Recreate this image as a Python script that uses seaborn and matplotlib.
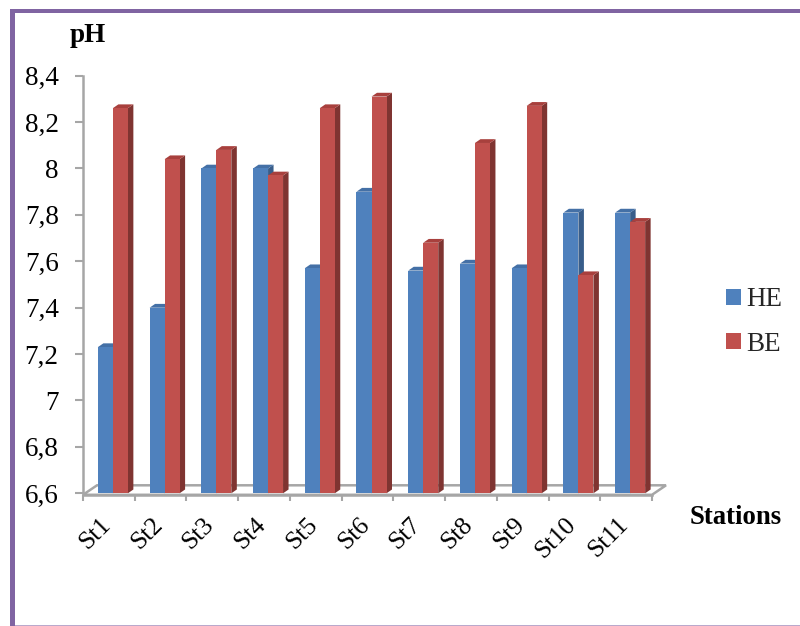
import matplotlib
matplotlib.use("Agg")
import matplotlib.pyplot as plt
import pandas as pd
import seaborn as sns
from matplotlib.patches import Polygon, Rectangle

stations = ["St1", "St2", "St3", "St4", "St5", "St6", "St7", "St8", "St9", "St10", "St11"]
he_values = [7.23, 7.40, 8.00, 8.00, 7.57, 7.90, 7.56, 7.59, 7.57, 7.81, 7.81]
be_values = [8.26, 8.04, 8.08, 7.97, 8.26, 8.31, 7.68, 8.11, 8.27, 7.54, 7.77]
y_ticks = [6.6, 6.8, 7.0, 7.2, 7.4, 7.6, 7.8, 8.0, 8.2, 8.4]
y_tick_labels = ["6,6", "6,8", "7", "7,2", "7,4", "7,6", "7,8", "8", "8,2", "8,4"]

W, H = 800, 626
FRONT = {"HE": "#4F81BD", "BE": "#C0504D"}
SIDE = {"HE": "#385D8A", "BE": "#7F3431"}
TOP = {"HE": "#4470A6", "BE": "#A8403D"}
GREY = "#A6A6A6"
FRAME = "#8064A2"

sns.set_theme(style="white")
plt.rcParams["font.family"] = ["Liberation Serif", "DejaVu Serif"]

df = pd.DataFrame({
    "station": stations * 2,
    "series": ["HE"] * len(stations) + ["BE"] * len(stations),
    "ph": he_values + be_values,
})

fig = plt.figure(figsize=(W / 100, H / 100), dpi=100, facecolor="white")
left, right, top, bottom = 83, 652, 75.7, 493.3
ax = fig.add_axes([left / W, 1 - bottom / H, (right - left) / W, (bottom - top) / H])
ax.patch.set_alpha(0)

sns.barplot(data=df, x="station", y="ph", hue="series", hue_order=["HE", "BE"],
            palette=FRONT, order=stations, width=0.58, dodge=True, saturation=1,
            errorbar=None, ax=ax, linewidth=0, native_scale=False)

# Category centres sit a little right of the tick cells because of the 3D depth.
px_per_cat = (right - left) / 11
shift = 4 / px_per_cat
ax.set_xlim(-0.5 - shift, 10.5 - shift)
ax.set_ylim(6.6, 8.4)

# Depth faces for each box, sized in pixels and converted to data units.
px_per_y = (bottom - top) / 1.8
dx = 5.5 / px_per_cat
dy = 3.8 / px_per_y
y0 = 6.6
for idx, (name, container) in enumerate(zip(["HE", "BE"], ax.containers)):
    base_z = 3 + idx * 2
    for bar in container:
        x0 = bar.get_x()
        x1 = x0 + bar.get_width()
        h = bar.get_height()
        bar.set_zorder(base_z + 1)
        ax.add_patch(Polygon([(x1, y0), (x1 + dx, y0 + dy), (x1 + dx, h + dy), (x1, h)],
                             closed=True, fc=SIDE[name], ec="none", zorder=base_z, clip_on=False))
        ax.add_patch(Polygon([(x0, h), (x0 + dx, h + dy), (x1 + dx, h + dy), (x1, h)],
                             closed=True, fc=TOP[name], ec="none", zorder=base_z, clip_on=False))

# Floor plate beneath the boxes.
w_ax, h_ax = right - left, bottom - top
floor = [(0, -1.5 / h_ax), (14 / w_ax, 8 / h_ax), (1 + 14 / w_ax, 8 / h_ax), (1, -1.5 / h_ax)]
ax.add_patch(Polygon(floor, closed=True, transform=ax.transAxes, fc="white", ec=GREY,
                     lw=1.8, zorder=1, clip_on=False))

for side in ["top", "right"]:
    ax.spines[side].set_visible(False)
for side in ["left", "bottom"]:
    ax.spines[side].set_color(GREY)
    ax.spines[side].set_linewidth(1.8)
ax.spines["bottom"].set_position(("outward", 1.5))

ax.set_yticks(y_ticks)
ax.set_yticklabels(y_tick_labels, fontsize=19.5, color="black")
ax.tick_params(axis="y", which="major", length=6, width=1.5, color=GREY, pad=11.5, left=True)

# Ticks mark the cell edges; the labels hang from the cell centres.
ax.set_xticks([i - 0.5 - shift for i in range(12)])
ax.set_xticklabels([])
ax.tick_params(axis="x", which="major", length=4.5, width=1.5, color=GREY, bottom=True)
ax.set_xticks([i - shift - 0.18 for i in range(11)], minor=True)
ax.set_xticklabels(stations, minor=True, rotation=45, ha="right", va="top",
                   rotation_mode="anchor", fontsize=18.5, color="black")
ax.tick_params(axis="x", which="minor", length=0, pad=13)
ax.set_xlabel("")
ax.set_ylabel("")

fig.text(88 / W, 1 - 36 / H, "pH", fontsize=19.5, fontweight="bold", ha="center", va="center", color="black")
fig.text(736 / W, 1 - 517 / H, "Stations", fontsize=19.3, fontweight="bold", ha="center", va="center", color="black")

handles, labels = ax.get_legend_handles_labels()
leg = ax.legend(handles, labels, loc="center left", bbox_to_anchor=(721 / W, 1 - 322 / H),
                bbox_transform=fig.transFigure, frameon=False, fontsize=19.5, title=None,
                handlelength=0.52, handleheight=0.52, handletextpad=0.22, labelspacing=0.72,
                borderpad=0.2, borderaxespad=0)

# Page frame around the chart.
fig.add_artist(Rectangle((10 / W, 0), 5 / W, 1 - 9.5 / H, transform=fig.transFigure, fc=FRAME, ec="none"))
fig.add_artist(Rectangle((10 / W, 1 - 12.5 / H), 1 - 10 / W, 3 / H, transform=fig.transFigure, fc=FRAME, ec="none"))
fig.add_artist(Rectangle((15 / W, 0), 1 - 15 / W, 1.5 / H, transform=fig.transFigure, fc="#B9A9CC", ec="none"))

fig.savefig("out.png", dpi=100, facecolor="white")
